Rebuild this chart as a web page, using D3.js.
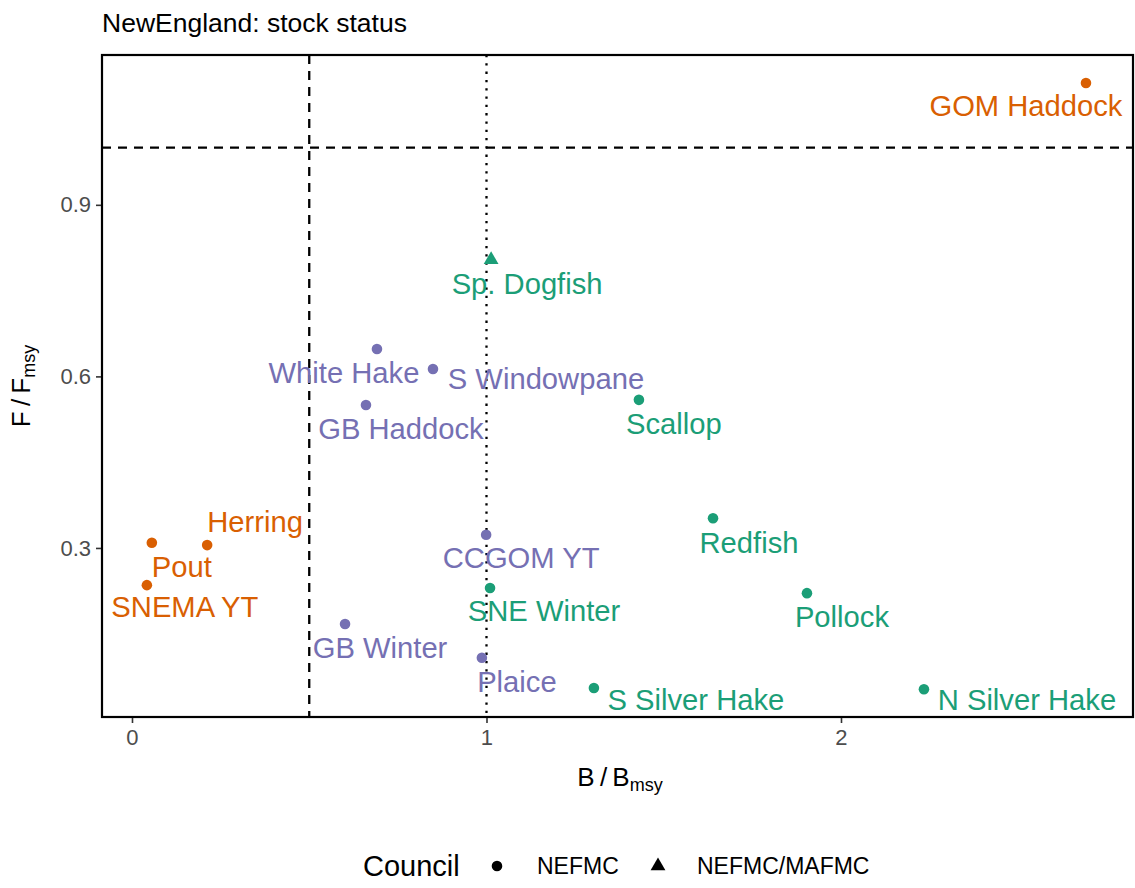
<!DOCTYPE html>
<html>
<head>
<meta charset="utf-8">
<script src="https://cdn.jsdelivr.net/npm/d3@7"></script>
<style>
  body { margin: 0; background: #fff; }
  text { font-family: "Liberation Sans", Arial, sans-serif; }
</style>
</head>
<body>
<div class="canva"></div>
<script>
// stock status data
const stocks = ["GOM Haddock", "Sp. Dogfish", "White Hake", "S Windowpane", "GB Haddock", "Scallop",
  "Herring", "Pout", "SNEMA YT", "CCGOM YT", "Redfish", "SNE Winter", "Pollock", "GB Winter",
  "Plaice", "S Silver Hake", "N Silver Hake"];
const bBmsy = [2.691, 1.013, 0.691, 0.849, 0.660, 1.430, 0.212, 0.056, 0.042, 0.999, 1.639, 1.010,
  1.904, 0.601, 0.987, 1.303, 2.234];
const fFmsy = [1.113, 0.804, 0.648, 0.613, 0.550, 0.559, 0.305, 0.309, 0.235, 0.323, 0.352, 0.230,
  0.221, 0.167, 0.108, 0.055, 0.053];
const council = ["NEFMC", "NEFMC/MAFMC", "NEFMC", "NEFMC", "NEFMC", "NEFMC", "NEFMC", "NEFMC", "NEFMC",
  "NEFMC", "NEFMC", "NEFMC", "NEFMC", "NEFMC", "NEFMC", "NEFMC", "NEFMC"];
const status = ["a", "c", "b", "b", "b", "c", "a", "a", "a", "b", "c", "c", "c", "b", "b", "c", "c"];
const councils = ["NEFMC", "NEFMC/MAFMC"];
const xTicks = [0, 1, 2];
const yTicks = [0.3, 0.6, 0.9];

// label nudges in px (like ggrepel placed them)
const labelNudge = [[-60, 23], [36, 24], [-33, 24], [113, 10], [35, 24], [35, 24], [48, -23],
  [30, 24], [38, 22], [35, 23], [36, 25], [54, 23], [35, 24], [35, 24], [35, 24], [102, 12], [103, 11]];

const data = stocks.map((s, i) => ({
  stock: s, b: bBmsy[i], f: fFmsy[i], council: council[i], status: status[i], nudge: labelNudge[i]
}));

const W = 1135, H = 888;
const panel = { left: 102, right: 1133, top: 55, bottom: 717 };

const svg = d3.select(".canva").append("svg")
  .attr("width", W)
  .attr("height", H);

const x = d3.scaleLinear().domain([-0.0846, 2.8237]).range([panel.left, panel.right]);
const y = d3.scaleLinear().domain([0.0044, 1.162]).range([panel.bottom, panel.top]);

const color = d3.scaleOrdinal().domain(["a", "b", "c"]).range(["#D95F02", "#7570B3", "#1B9E77"]);
const shape = d3.scaleOrdinal().domain(councils).range([d3.symbolCircle, d3.symbolTriangle]);

// title
svg.append("text")
  .attr("x", panel.left)
  .attr("y", 32)
  .style("font-size", "26.5px")
  .attr("fill", "#000")
  .text("NewEngland: stock status");

// reference lines
svg.append("line")
  .attr("x1", x(0.5)).attr("x2", x(0.5))
  .attr("y1", panel.top).attr("y2", panel.bottom)
  .attr("stroke", "#000").attr("stroke-width", 2.3)
  .attr("stroke-dasharray", "9,7");
svg.append("line")
  .attr("x1", panel.left).attr("x2", panel.right)
  .attr("y1", y(1)).attr("y2", y(1))
  .attr("stroke", "#000").attr("stroke-width", 2.3)
  .attr("stroke-dasharray", "9,7");
svg.append("line")
  .attr("x1", x(1)).attr("x2", x(1))
  .attr("y1", panel.top).attr("y2", panel.bottom)
  .attr("stroke", "#000").attr("stroke-width", 2.3)
  .attr("stroke-dasharray", "2.3,6");

// points
svg.selectAll("path.pt")
  .data(data)
  .enter()
  .append("path")
  .attr("class", "pt")
  .attr("transform", d => `translate(${x(d.b)},${y(d.f)})`)
  .attr("d", d => d3.symbol().type(shape(d.council)).size(d.council === "NEFMC" ? 88 : 95)())
  .attr("fill", d => color(d.status));

// labels
svg.selectAll("text.lab")
  .data(data)
  .enter()
  .append("text")
  .attr("class", "lab")
  .attr("x", d => x(d.b) + d.nudge[0])
  .attr("y", d => y(d.f) + d.nudge[1])
  .attr("text-anchor", "middle")
  .attr("dominant-baseline", "central")
  .style("font-size", "29.2px")
  .attr("fill", d => color(d.status))
  .text(d => d.stock);

// panel border
svg.append("rect")
  .attr("x", panel.left).attr("y", panel.top)
  .attr("width", panel.right - panel.left)
  .attr("height", panel.bottom - panel.top)
  .attr("fill", "none")
  .attr("stroke", "#000")
  .attr("stroke-width", 2.2);

// axes
const xAxis = svg.append("g")
  .attr("transform", `translate(0,${panel.bottom + 1})`)
  .call(d3.axisBottom(x).tickValues(xTicks).tickSize(5).tickPadding(6).tickFormat(d3.format("d")));
const yAxis = svg.append("g")
  .attr("transform", `translate(${panel.left - 1},0)`)
  .call(d3.axisLeft(y).tickValues(yTicks).tickSize(5).tickPadding(5).tickFormat(d3.format(".1f")));
[xAxis, yAxis].forEach(g => {
  g.select(".domain").remove();
  g.selectAll(".tick line").attr("stroke", "#333").attr("stroke-width", 1.6);
  g.selectAll(".tick text")
    .attr("fill", "#4D4D4D")
    .style("font-size", "22px")
    .style("font-family", "Liberation Sans, Arial, sans-serif");
});

// axis titles (plotmath style: B / B[msy])
const xt = svg.append("text")
  .attr("x", 620)
  .attr("y", 786)
  .attr("text-anchor", "middle")
  .style("font-size", "26px")
  .attr("fill", "#000");
xt.append("tspan").text("B\u2009/\u2009B");
xt.append("tspan").attr("dy", 5).style("font-size", "18px").text("msy");

const yt = svg.append("text")
  .attr("transform", `translate(30,${(panel.top + panel.bottom) / 2}) rotate(-90)`)
  .attr("text-anchor", "middle")
  .style("font-size", "26px")
  .attr("fill", "#000");
yt.append("tspan").text("F\u2009/\u2009F");
yt.append("tspan").attr("dy", 5).style("font-size", "18px").text("msy");

// legend
const lg = svg.append("g").attr("transform", "translate(0,866)");
lg.append("text")
  .attr("x", 363)
  .attr("y", 0)
  .attr("dominant-baseline", "central")
  .style("font-size", "29px")
  .text("Council");
const legX = [497, 658];
const legTextX = [537, 697];
councils.forEach((c, i) => {
  lg.append("path")
    .attr("transform", `translate(${legX[i]},0)`)
    .attr("d", d3.symbol().type(shape(c)).size(c === "NEFMC" ? 88 : 95)())
    .attr("fill", "#000");
  lg.append("text")
    .attr("x", legTextX[i])
    .attr("y", 0)
    .attr("dominant-baseline", "central")
    .style("font-size", "23px")
    .text(c);
});
</script>
</body>
</html>
